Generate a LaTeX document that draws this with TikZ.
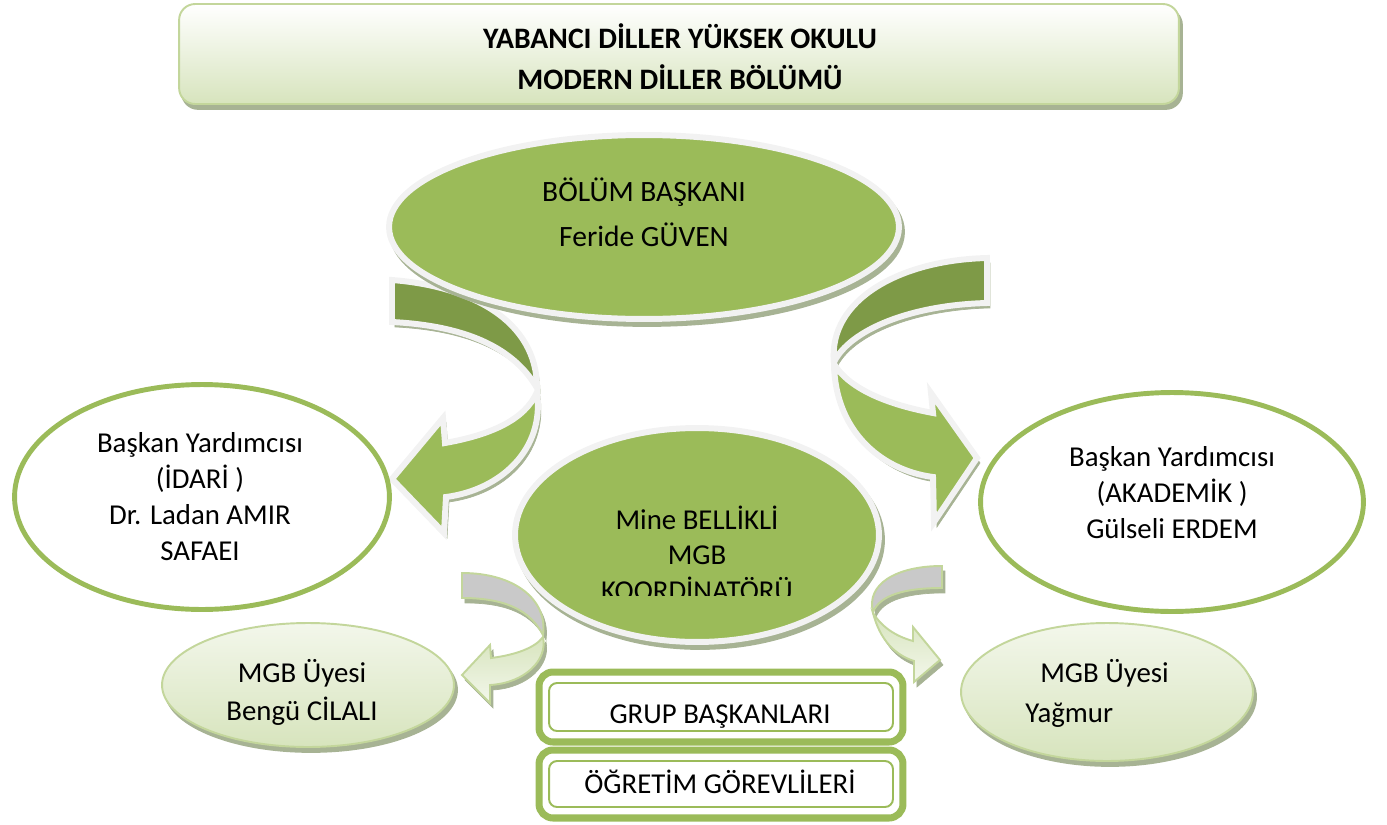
\documentclass[tikz,border=0pt]{standalone}
\usepackage{fontspec}
\setmainfont{Carlito}
\usetikzlibrary{shapes.geometric,shadows}

\definecolor{mgbgreen}{HTML}{9BBB59}
\definecolor{mgbdark}{HTML}{7E9A47}
\definecolor{mgbrim}{HTML}{F2F2F2}
\definecolor{mgbshadow}{HTML}{A7B394}
\definecolor{mgbpale}{HTML}{D7E4BD}
\definecolor{mgbwash}{HTML}{F3F7EB}
\definecolor{mgbline}{HTML}{C3D69B}
\definecolor{mgbgray}{HTML}{C9C9C9}

\tikzset{
  sh/.style={general shadow={shadow xshift=1.7pt,shadow yshift=-2.8pt,fill=mgbshadow,draw=mgbshadow}},
  banner/.style={rectangle, rounded corners=0.32cm, top color=white, bottom color=mgbpale,
    draw=mgbline, line width=1.1pt, inner sep=0pt, sh},
  bigoval/.style={ellipse, fill=mgbgreen, draw=mgbrim, line width=3.4pt, inner sep=0pt, sh},
  whiteoval/.style={ellipse, fill=white, draw=mgbgreen, line width=2.8pt, inner sep=0pt},
  smalloval/.style={ellipse, top color=mgbwash, bottom color=mgbpale, draw=mgbline,
    line width=1.1pt, inner sep=0pt, sh},
  ribbonback/.style={fill=mgbdark, draw=mgbrim, line width=3.4pt, sh},
  ribbonfront/.style={fill=mgbgreen, draw=mgbrim, line width=3.4pt, sh},
  tinyback/.style={fill=mgbgray, draw=mgbline, line width=1.1pt, sh},
  tinyfront/.style={top color=mgbpale, bottom color=mgbwash, draw=mgbline, line width=1.1pt, sh},
  outerbox/.style={rectangle, rounded corners=0.28cm, draw=mgbgreen, line width=4pt, fill=white, inner sep=0pt},
  innerbox/.style={rectangle, rounded corners=0.16cm, draw=mgbgreen, line width=1.1pt, inner sep=0pt},
  lbl/.style={font=\fontsize{16.4}{20.4}\selectfont, align=center, inner sep=0pt}
}

\begin{document}
\begin{tikzpicture}[x=0.02cm, y=-0.02cm]
\useasboundingbox (0,0) rectangle (1387,825);

% title
\node[banner, minimum width=20cm, minimum height=2cm] (okul) at (679,54) {};
\node[lbl, font=\fontsize{16.9}{23}\selectfont\bfseries, anchor=base] (okultxt) at (680,89)
  {YABANCI DİLLER YÜKSEK OKULU\\MODERN DİLLER BÖLÜMÜ};

% big ribbons
\path[ribbonback] (392,280) .. controls (470,286) and (537,320) .. (537,388)
  .. controls (515,350) and (470,326) .. (392,322) -- cycle;
\path[ribbonfront] (537,392) .. controls (545,450) and (500,490) .. (446,497) -- (444,533)
  -- (392,479) -- (443,418) -- (445,443) .. controls (490,435) and (525,420) .. (537,392) -- cycle;
\path[ribbonback] (987,258) .. controls (900,260) and (828,300) .. (834,362)
  .. controls (850,330) and (910,305) .. (987,303) -- cycle;
\path[ribbonfront] (834,364) .. controls (835,430) and (880,470) .. (933,477) -- (934,522)
  -- (977,458) -- (931,393) -- (933,413) .. controls (890,405) and (850,390) .. (834,364) -- cycle;

% small ribbons
\path[tinyback] (462,573) .. controls (515,573) and (548,600) .. (543,635)
  .. controls (530,610) and (505,598) .. (462,598) -- cycle;
\path[tinyfront] (543,637) .. controls (548,660) and (525,683) .. (490,685) -- (490,703)
  -- (462,675) -- (490,645) -- (491,658) .. controls (515,655) and (535,648) .. (543,637) -- cycle;
\path[tinyback] (942,566) .. controls (895,566) and (866,585) .. (873,612)
  .. controls (880,595) and (905,588) .. (942,588) -- cycle;
\path[tinyfront] (873,613) .. controls (880,640) and (895,655) .. (914,661) -- (914,682)
  -- (940,660) -- (913,627) -- (913,641) .. controls (895,636) and (882,627) .. (873,613) -- cycle;

% ovals
\node[bigoval, minimum width=10.2cm, minimum height=3.68cm] (baskan) at (644,227) {};
\node[lbl, font=\fontsize{16.8}{25.5}\selectfont, anchor=base] (baskantxt) at (644,246)
  {BÖLÜM BAŞKANI\\Feride GÜVEN};

\node[whiteoval, minimum width=7.5cm, minimum height=4.5cm] (idari) at (202,497) {};
\node[lbl, anchor=base] (idaritxt) at (200,560)
  {Başkan Yardımcısı\\(İDARİ )\\Dr. Ladan AMIR\\SAFAEI};

\node[whiteoval, minimum width=7.66cm, minimum height=4.38cm] (akademik) at (1172,502) {};
\node[lbl, anchor=base] (akademiktxt) at (1172,538)
  {Başkan Yardımcısı\\(AKADEMİK )\\Gülseli ERDEM};

\node[bigoval, minimum width=7.28cm, minimum height=4.28cm] (koord) at (697,535) {};
\begin{scope}
  \clip (500,420) rectangle (900,595);
  \node[lbl, font=\fontsize{16.4}{20}\selectfont, anchor=base] (koordtxt) at (697,600)
    {Mine BELLİKLİ\\MGB\\KOORDİNATÖRÜ};
\end{scope}

\node[smalloval, minimum width=5.84cm, minimum height=2.48cm] (uye1) at (308,685) {};
\node[lbl, font=\fontsize{16.4}{21.5}\selectfont, anchor=base] (uye1txt) at (302,720)
  {MGB Üyesi\\Bengü CİLALI};

\node[smalloval, minimum width=5.84cm, minimum height=2.76cm] (uye2) at (1107,692) {};
\node[lbl, font=\fontsize{16.4}{22.5}\selectfont, align=left, anchor=base west] (uye2txt) at (1025,722)
  {\hspace*{8.5pt}MGB Üyesi\\Yağmur};

% staff boxes
\node[outerbox, minimum width=7.28cm, minimum height=1.4cm] (grupout) at (721,707) {};
\node[innerbox, minimum width=6.88cm, minimum height=0.96cm] (grup) at (grupout) {};
\node[lbl, anchor=base] (gruptxt) at (720,723) {GRUP BAŞKANLARI};

\node[outerbox, minimum width=7.28cm, minimum height=1.36cm] (ogretout) at (721,784) {};
\node[innerbox, minimum width=6.88cm, minimum height=0.92cm] (ogret) at (ogretout) {};
\node[lbl, anchor=base] (ogrettxt) at (720,793) {ÖĞRETİM GÖREVLİLERİ};

\end{tikzpicture}
\end{document}
